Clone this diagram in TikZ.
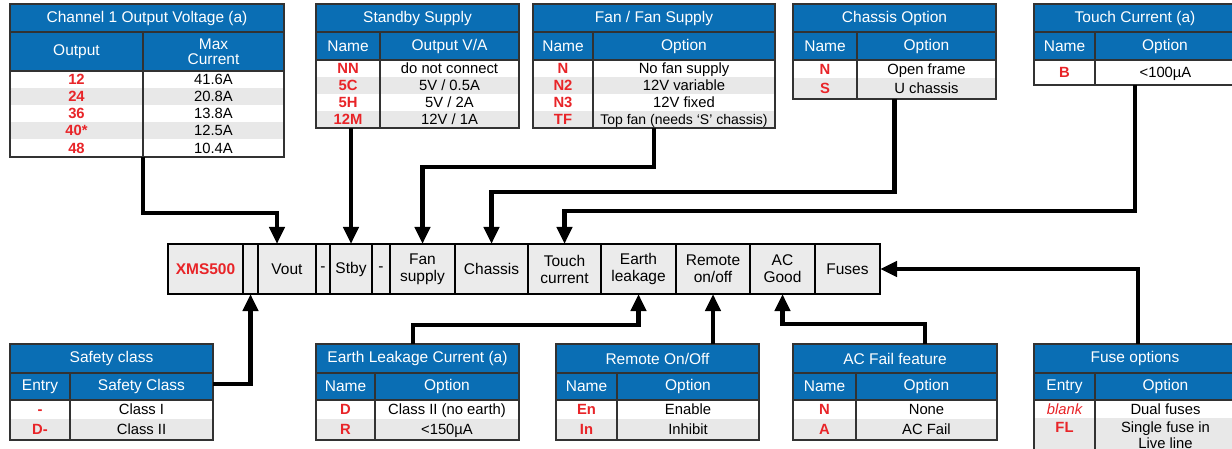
\documentclass[tikz,border=0pt]{standalone}
\usepackage{fontspec}
\setmainfont{Liberation Sans}
\usetikzlibrary{arrows.meta}
\definecolor{hdrblue}{RGB}{10,110,180}
\definecolor{optred}{RGB}{232,36,40}
\definecolor{rowgray}{RGB}{232,232,232}
\definecolor{cellgray}{RGB}{235,235,235}
\definecolor{gridline}{RGB}{50,50,50}
\tikzset{
  every node/.style={font=\fontsize{15.5}{17}\selectfont, inner sep=0pt, outer sep=0pt},
  hdrtext/.style={text=white, align=center},
  nametext/.style={text=optred, font=\fontsize{14.8}{17}\selectfont\bfseries, anchor=base},
  opttext/.style={text=black, font=\fontsize{14.8}{17}\selectfont, anchor=base},
  gridrule/.style={draw=gridline, line width=1.3pt},
  frame/.style={draw=gridline, line width=1.5pt, inner sep=0pt, outer sep=0pt, anchor=north west},
  stripcell/.style={draw=black, line width=1.1pt, fill=cellgray, minimum height=50pt, inner sep=0pt, outer sep=0pt, align=center, anchor=north west},
  conn/.style={line width=4.5pt, line join=miter, -{Triangle[width=15pt,length=17pt]}},
}
% title bar: id L R T T1 title
\newcommand\TTitle[6]{%
  \fill[hdrblue] (#2,#4) rectangle (#3,#5);
  \node[hdrtext] (#1-title) at ({(#2+#3)/2},{(#4+#5)/2}) {#6};}
% header row: id L D R T1 T2 h1 h2
\newcommand\THdr[8]{%
  \fill[hdrblue] (#2,#5) rectangle (#4,#6);
  \node[hdrtext] (#1-h1) at ({(#2+#3)/2},{(#5+#6)/2}) {#7};
  \node[hdrtext] (#1-h2) at ({(#3+#4)/2},{(#5+#6)/2}) {#8};}
% data row: id L D R yt yb fill name option
\newcommand\TRow[9]{%
  \fill[#7] (#2,#5) rectangle (#4,#6);
  \node[nametext] (#1n) at ({(#2+#3)/2},{(#5+#6)/2+5.3}) {#8};
  \node[opttext] (#1o) at ({(#3+#4)/2},{(#5+#6)/2+5.3}) {#9};}
% grid and frame: id L D R T T1 T2 B
\newcommand\TGrid[8]{%
  \draw[gridrule] (#2,#6) -- (#4,#6) (#2,#7) -- (#4,#7) (#3,#6) -- (#3,#8);
  \node[frame, minimum width={(#4-#2)*1pt}, minimum height={(#8-#5)*1pt}] (#1) at (#2,#5) {};}
\begin{document}
\begin{tikzpicture}[x=1pt,y=-1pt]
\path[use as bounding box] (0,0) rectangle (1232,449);
\clip (0,0) rectangle (1232,449);

% ---------- Channel 1 Output Voltage ----------
\TTitle{ch1}{10}{284}{4}{32}{Channel 1 Output Voltage (a)}
\fill[hdrblue] (10,32) rectangle (284,71);
\node[hdrtext] (ch1-h1) at (76.5,51.5) {Output};
\node[hdrtext] (ch1-h2) at (213.5,51.5) {Max\\[-2pt]Current};
\TRow{ch1-1}{10}{143}{284}{71}{88}{white}{12}{41.6A}
\TRow{ch1-2}{10}{143}{284}{88}{105}{rowgray}{24}{20.8A}
\TRow{ch1-3}{10}{143}{284}{105}{122}{white}{36}{13.8A}
\TRow{ch1-4}{10}{143}{284}{122}{139}{rowgray}{40*}{12.5A}
\TRow{ch1-5}{10}{143}{284}{139}{157}{white}{48}{10.4A}
\TGrid{tCh1}{10}{143}{284}{4}{32}{71}{157}
\coordinate (ch1div) at (143,157);

% ---------- Standby Supply ----------
\TTitle{sb}{316}{519}{4}{32}{Standby Supply}
\THdr{sb}{316}{380}{519}{32}{60}{Name}{Output V/A}
\TRow{sb-1}{316}{380}{519}{60}{77}{white}{NN}{do not connect}
\TRow{sb-2}{316}{380}{519}{77}{94}{rowgray}{5C}{5V / 0.5A}
\TRow{sb-3}{316}{380}{519}{94}{111}{white}{5H}{5V / 2A}
\TRow{sb-4}{316}{380}{519}{111}{128}{rowgray}{12M}{12V / 1A}
\TGrid{tStby}{316}{380}{519}{4}{32}{60}{128}

% ---------- Fan / Fan Supply ----------
\TTitle{fn}{533}{775}{4}{32}{Fan / Fan Supply}
\THdr{fn}{533}{593}{775}{32}{60}{Name}{Option}
\TRow{fn-1}{533}{593}{775}{60}{77}{white}{N}{No fan supply}
\TRow{fn-2}{533}{593}{775}{77}{94}{rowgray}{N2}{12V variable}
\TRow{fn-3}{533}{593}{775}{94}{111}{white}{N3}{12V fixed}
\TRow{fn-4}{533}{593}{775}{111}{128}{rowgray}{TF}{\fontsize{14}{17}\selectfont Top fan (needs ‘S’ chassis)}
\TGrid{tFan}{533}{593}{775}{4}{32}{60}{128}

% ---------- Chassis Option ----------
\TTitle{ch}{793}{996}{4}{32}{Chassis Option}
\THdr{ch}{793}{857}{996}{32}{60}{Name}{Option}
\TRow{ch-1}{793}{857}{996}{60}{78}{white}{N}{Open frame}
\TRow{ch-2}{793}{857}{996}{78}{99}{rowgray}{S}{U chassis}
\TGrid{tChas}{793}{857}{996}{4}{32}{60}{99}

% ---------- Touch Current ----------
\TTitle{tc}{1034}{1236}{4}{32}{Touch Current (a)}
\fill[hdrblue] (1034,32) rectangle (1236,60);
\node[hdrtext] (tc-h1) at (1064.5,46) {Name};
\node[hdrtext] (tc-h2) at (1165,46) {Option};
\TRow{tc-1}{1034}{1095}{1236}{60}{85}{white}{B}{<100µA}
\TGrid{tTouch}{1034}{1095}{1236}{4}{32}{60}{85}

% ---------- Part number strip ----------
\node[stripcell, minimum width=75pt] (xms) at (168,244) {\textcolor{optred}{\bfseries XMS500}};
\node[stripcell, minimum width=15pt] (blank) at (243,244) {};
\node[stripcell, minimum width=58pt] (vout) at (258,244) {Vout};
\node[stripcell, minimum width=14pt] (dash1) at (316,244) {-};
\node[stripcell, minimum width=42pt] (stby) at (330,244) {Stby};
\node[stripcell, minimum width=18pt] (dash2) at (372,244) {-};
\node[stripcell, minimum width=65pt] (fan) at (390,244) {Fan\\supply};
\node[stripcell, minimum width=73pt] (chas) at (455,244) {Chassis};
\node[stripcell, minimum width=73pt] (touch) at (528,244) {Touch\\current};
\node[stripcell, minimum width=75pt] (earth) at (601,244) {Earth\\leakage};
\node[stripcell, minimum width=74pt] (remote) at (676,244) {Remote\\on/off};
\node[stripcell, minimum width=65pt] (acg) at (750,244) {AC\\Good};
\node[stripcell, minimum width=65pt] (fuses) at (815,244) {Fuses};

% ---------- Safety class ----------
\TTitle{sf}{10}{213}{344}{373}{Safety class}
\THdr{sf}{10}{70}{213}{373}{400}{Entry}{Safety Class}
\TRow{sf-1}{10}{70}{213}{400}{419}{white}{-}{Class I}
\TRow{sf-2}{10}{70}{213}{419}{440}{rowgray}{D-}{Class II}
\TGrid{tSafe}{10}{70}{213}{344}{373}{400}{440}

% ---------- Earth Leakage ----------
\TTitle{el}{316}{519}{344}{373}{Earth Leakage Current (a)}
\THdr{el}{316}{375}{519}{373}{400}{Name}{Option}
\TRow{el-1}{316}{375}{519}{400}{419}{white}{D}{Class II (no earth)}
\TRow{el-2}{316}{375}{519}{419}{440}{rowgray}{R}{<150µA}
\TGrid{tEarth}{316}{375}{519}{344}{373}{400}{440}

% ---------- Remote On/Off ----------
\TTitle{ro}{556}{759}{344}{373}{Remote On/Off}
\THdr{ro}{556}{617}{759}{373}{400}{Name}{Option}
\TRow{ro-1}{556}{617}{759}{400}{419}{white}{En}{Enable}
\TRow{ro-2}{556}{617}{759}{419}{440}{rowgray}{In}{Inhibit}
\TGrid{tRem}{556}{617}{759}{344}{373}{400}{440}

% ---------- AC Fail feature ----------
\TTitle{ac}{793}{997}{344}{373}{AC Fail feature}
\THdr{ac}{793}{856}{997}{373}{400}{Name}{Option}
\TRow{ac-1}{793}{856}{997}{400}{419}{white}{N}{None}
\TRow{ac-2}{793}{856}{997}{419}{440}{rowgray}{A}{AC Fail}
\TGrid{tAC}{793}{856}{997}{344}{373}{400}{440}

% ---------- Fuse options ----------
\TTitle{fu}{1034}{1236}{344}{373}{Fuse options}
\THdr{fu}{1034}{1095}{1236}{373}{400}{Entry}{Option}
\fill[white] (1034,400) rectangle (1236,418);
\node[opttext, text=optred, font=\fontsize{14.8}{17}\selectfont\itshape] (fu-1n) at (1064.5,414.5) {blank};
\node[opttext] (fu-1o) at (1165.5,414.5) {Dual fuses};
\fill[rowgray] (1034,418) rectangle (1236,470);
\node[nametext] (fu-2n) at (1064.5,432) {FL};
\node[opttext] (fu-2o) at (1165.5,432) {Single fuse in};
\node[opttext] (fu-2o2) at (1165.5,448) {Live line};
\TGrid{tFuse}{1034}{1095}{1236}{344}{373}{400}{470}

% ---------- connectors (top) ----------
\draw[conn] (ch1div) -- (143,213) -| ([xshift=-10pt]vout.north);
\draw[conn] (tStby.south -| stby.north) -- (stby.north);
\draw[conn] (tFan.south) -- (tFan.south |- 0,167) -| (fan.north);
\draw[conn] (tChas.south) -- (tChas.south |- 0,192) -| (chas.north);
\draw[conn] (tTouch.south) -- (tTouch.south |- 0,211) -| (touch.north);

% ---------- connectors (bottom) ----------
\draw[conn] (tSafe.east |- 0,384) -| (blank.south);
\draw[conn] (tEarth.north -| 413,0) -- (413,325) -| (earth.south);
\draw[conn] (tRem.north -| remote.south) -- (remote.south);
\draw[conn] (tAC.north -| 925,0) -- (925,324) -| (acg.south);
\draw[conn] (tFuse.north -| 1138,0) |- (fuses.east);
\end{tikzpicture}
\end{document}
